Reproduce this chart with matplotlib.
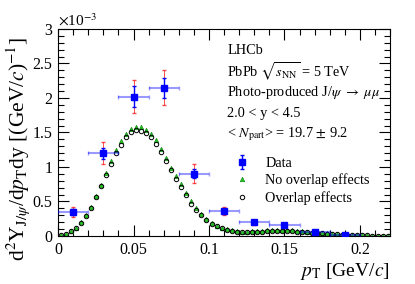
import numpy as np
import matplotlib
matplotlib.use("Agg")
import matplotlib.pyplot as plt
from matplotlib.ticker import MultipleLocator, FuncFormatter

plt.rcParams['font.family'] = ['Liberation Serif', 'DejaVu Serif']
plt.rcParams['mathtext.fontset'] = 'stix'

# data points (units of 1e-3)
pt_data = np.array([0.01, 0.03, 0.05, 0.07, 0.09, 0.11, 0.13, 0.15, 0.17, 0.19])
pt_halfwidth = np.array([0.01] * 10)
y_data = np.array([0.35, 1.20, 2.02, 2.15, 0.905, 0.36, 0.20, 0.165, 0.06, 0.02])
stat_err = np.array([0.04, 0.08, 0.15, 0.145, 0.07, 0.035, 0.02, 0.015, 0.01, 0.005])
tot_err = np.array([0.075, 0.16, 0.24, 0.25, 0.14, 0.06, 0.035, 0.025, 0.015, 0.008])

# model bin centres (66 bins over 0-0.22)
pt_model = np.linspace(0, 0.22, 67)[:-1] + 0.22 / 132

no_overlap = [0.01, 0.03, 0.07, 0.12, 0.20, 0.30, 0.42, 0.58, 0.74, 0.91,
              1.08, 1.24, 1.37, 1.48, 1.55, 1.58, 1.58, 1.54, 1.48, 1.39,
              1.26, 1.13, 0.99, 0.87, 0.75, 0.62, 0.50, 0.40, 0.32, 0.25,
              0.19, 0.15, 0.12, 0.095, 0.08, 0.07, 0.065, 0.065, 0.07, 0.07,
              0.075, 0.08, 0.08, 0.08, 0.08, 0.08, 0.08, 0.075, 0.07, 0.06,
              0.055, 0.05, 0.045, 0.04, 0.033, 0.027, 0.022, 0.018, 0.015, 0.012,
              0.01, 0.008, 0.007, 0.006, 0.005, 0.004]
overlap = [0.01, 0.03, 0.07, 0.12, 0.19, 0.29, 0.41, 0.56, 0.72, 0.88,
           1.04, 1.20, 1.32, 1.43, 1.50, 1.53, 1.52, 1.49, 1.43, 1.34,
           1.21, 1.08, 0.95, 0.83, 0.71, 0.59, 0.47, 0.38, 0.30, 0.23,
           0.18, 0.14, 0.11, 0.085, 0.07, 0.06, 0.055, 0.055, 0.06, 0.06,
           0.065, 0.07, 0.07, 0.07, 0.07, 0.07, 0.07, 0.065, 0.06, 0.055,
           0.05, 0.045, 0.04, 0.035, 0.03, 0.025, 0.02, 0.017, 0.014, 0.012,
           0.01, 0.008, 0.007, 0.006, 0.005, 0.004]

fig = plt.figure(figsize=(4.15, 2.84), dpi=100)
ax = fig.add_axes([0.140, 0.169, 0.800, 0.729])

ax.plot(pt_model, no_overlap, linestyle='none', marker='^', ms=3.2,
        mfc='#22cc22', mec='#118811', mew=0.5, label='No overlap effects', zorder=2)
ax.plot(pt_model, overlap, linestyle='none', marker='o', ms=3.2,
        mfc='none', mec='black', mew=0.7, label='Overlap effects', zorder=3)

ax.errorbar(pt_data, y_data, yerr=tot_err, fmt='none', ecolor='red',
            elinewidth=0.7, capsize=1.2, alpha=0.7, zorder=4)
ax.errorbar(pt_data, y_data, xerr=pt_halfwidth, fmt='none', ecolor='blue',
            elinewidth=1.5, capsize=1.2, alpha=0.4, zorder=5)
data_h = ax.errorbar(pt_data, y_data, yerr=stat_err, fmt='s', color='blue',
                     ms=4, elinewidth=1.0, capsize=1.2, label='Data', zorder=6)

ax.set_xlim(0, 0.22)
ax.set_ylim(0, 3)
ax.xaxis.set_major_locator(MultipleLocator(0.05))
ax.xaxis.set_minor_locator(MultipleLocator(0.01))
ax.yaxis.set_major_locator(MultipleLocator(0.5))
ax.yaxis.set_minor_locator(MultipleLocator(0.1))
fmt = FuncFormatter(lambda v, p: '%g' % round(v, 4))
ax.xaxis.set_major_formatter(fmt)
ax.yaxis.set_major_formatter(fmt)
ax.tick_params(which='both', direction='in', top=True, right=True, labelsize=11.5)
ax.tick_params(which='major', length=8, width=0.8, pad=4)
ax.tick_params(which='minor', length=4, width=0.8)
for s in ax.spines.values():
    s.set_linewidth(0.8)

ax.text(0.0, 1.0, r'$\times$10$^{-3}$', transform=ax.transAxes, fontsize=11,
        ha='left', va='bottom')
ax.set_ylabel(r'd$^{2}$Y$_{{\rm J}/\psi}$/d$p_{\rm T}$dy [(GeV/$c$)$^{-1}$]', fontsize=15.5)
ax.set_xlabel(r'$p_{\rm T}$ [GeV/$c$]', fontsize=14, loc='right')
ax.yaxis.set_label_coords(-0.08, 0.42)
ax.xaxis.set_label_coords(1.0, -0.12)

info = ['LHCb',
        r'PbPb $\sqrt{s_{\rm NN}}$ = 5 TeV',
        r'Photo-produced J/$\psi$ $\rightarrow$ $\mu\mu$',
        '2.0 < y < 4.5',
        r'< $N_{\rm part}$> = 19.7 $\pm$ 9.2']
for i, line in enumerate(info):
    ax.text(0.51, 0.895 - i * 0.101, line, transform=ax.transAxes, fontsize=10.3,
            ha='left', va='center')

ax.legend([data_h, ax.lines[0], ax.lines[1]],
          ['Data', 'No overlap effects', 'Overlap effects'],
          loc='upper left', bbox_to_anchor=(0.49, 0.41), frameon=False,
          fontsize=10.3, handlelength=2.2, handletextpad=0.5, labelspacing=0.25,
          borderaxespad=0)

fig.savefig('out.png', dpi=100)
